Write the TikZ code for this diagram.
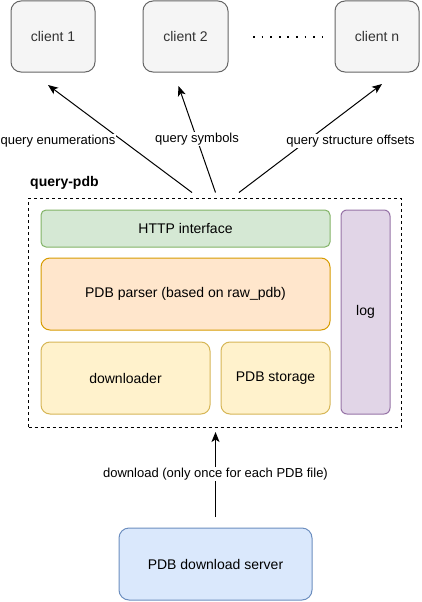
\documentclass[tikz,border=0pt]{standalone}
\usepackage{fontspec}
\setmainfont{Liberation Sans}
\usetikzlibrary{arrows.meta}
\definecolor{cfill}{HTML}{F5F5F5}
\definecolor{cstroke}{HTML}{666666}
\definecolor{ctext}{HTML}{333333}
\definecolor{gfill}{HTML}{D5E8D4}
\definecolor{gstroke}{HTML}{82B366}
\definecolor{ofill}{HTML}{FFE6CC}
\definecolor{ostroke}{HTML}{D79B00}
\definecolor{yfill}{HTML}{FFF2CC}
\definecolor{ystroke}{HTML}{D6B656}
\definecolor{pfill}{HTML}{E1D5E7}
\definecolor{pstroke}{HTML}{9673A6}
\definecolor{bfill}{HTML}{DAE8FC}
\definecolor{bstroke}{HTML}{6C8EBF}
\begin{document}
\begin{tikzpicture}[x=1pt,y=-1pt,
  boxfont/.style={font=\fontsize{14}{16}\selectfont},
  edgefont/.style={font=\fontsize{13}{15}\selectfont},
  blk/.style={draw, line width=1pt, inner sep=0pt, boxfont, align=center},
  clientbox/.style={blk, fill=cfill, draw=cstroke, text=ctext, rounded corners=10pt, minimum width=84pt, minimum height=71pt},
  arr/.style={line width=1pt, -{Stealth[length=10pt,width=8pt,inset=2.5pt]}},
  elabel/.style={edgefont, fill=white, inner sep=1pt}
]
\useasboundingbox (0,0) rectangle (422,602);

% clients
\node[clientbox] (c1) at (53,36.5) {client 1};
\node[clientbox, minimum width=85pt] (c2) at (185.5,36.5) {client 2};
\node[clientbox] (cn) at (377,36.5) {client n};
\coordinate (d1) at (253,37);
\coordinate (d2) at (322,37);
\draw[line width=1.8pt, dash pattern=on 1.8pt off 6.8pt] (d1) -- (d2);

% container
\node[draw, line width=1pt, dash pattern=on 3pt off 3pt, minimum width=372.5pt, minimum height=229pt, inner sep=0pt] (qp) at (214.75,312.5) {};
\node[anchor=west, font=\fontsize{14}{16}\selectfont\bfseries, inner sep=0pt] (qpl) at (30,183) {query-pdb};

\node[blk, fill=gfill, draw=gstroke, rounded corners=5pt, minimum width=289pt, minimum height=37pt] (http) at (185.5,228.5) {HTTP interface};
\node[blk, fill=ofill, draw=ostroke, rounded corners=9pt, minimum width=289pt, minimum height=72pt] (parser) at (185.5,294) {PDB parser (based on raw\_pdb)};
\node[blk, fill=yfill, draw=ystroke, rounded corners=9pt, minimum width=169pt, minimum height=72pt] (dl) at (125.5,378) {downloader};
\node[blk, fill=yfill, draw=ystroke, rounded corners=9pt, minimum width=109pt, minimum height=72pt] (st) at (275.5,378) {PDB storage};
\node[blk, fill=pfill, draw=pstroke, rounded corners=6pt, minimum width=49pt, minimum height=204pt] (log) at (365.5,312) {log};

\node[blk, fill=bfill, draw=bstroke, rounded corners=10pt, minimum width=193pt, minimum height=72pt] (srv) at (215.5,564) {PDB download server};

% arrows to clients
\coordinate (s1) at (192,192.5);
\coordinate (s2) at (215.5,192.5);
\coordinate (s3) at (239,192.5);
\coordinate (t1) at (48,85);
\coordinate (t2) at (178.5,86);
\coordinate (t3) at (382,84);
\draw[arr] (s1) -- (t1);
\draw[arr] (s2) -- (t2);
\draw[arr] (s3) -- (t3);
\node[elabel] (l1) at (58,141.5) {query enumerations};
\node[elabel] (l2) at (197,139) {query symbols};
\node[elabel] (l3) at (350.5,141) {query structure offsets};

% download arrow
\coordinate (b1) at (215.5,517);
\coordinate (b2) at (215.5,432);
\draw[arr] (b1) -- (b2);
\node[elabel] (l4) at (215.5,474) {download (only once for each PDB file)};
\end{tikzpicture}
\end{document}
